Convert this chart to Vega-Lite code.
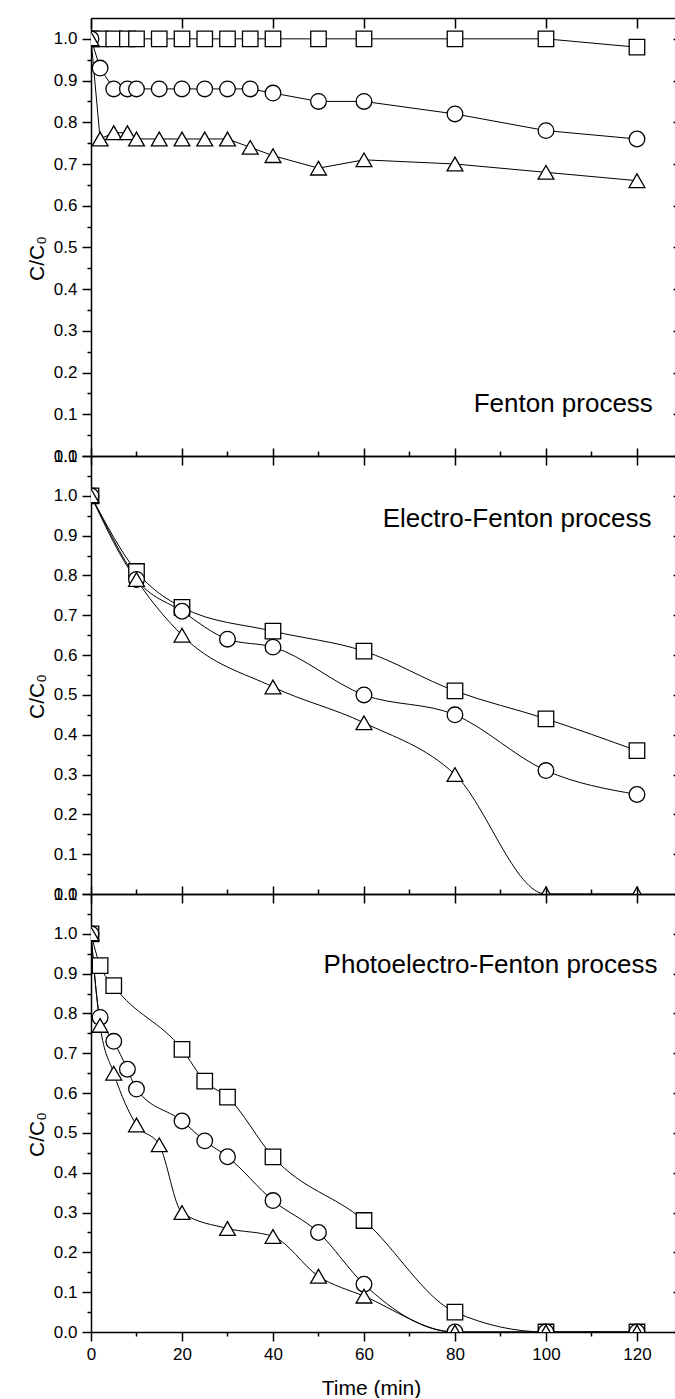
{
  "$schema": "https://vega.github.io/schema/vega-lite/v6.json",
  "padding": {"left": 26, "top": 17, "right": 0, "bottom": 0},
  "bounds": "flush",
  "spacing": 0,
  "config": {
    "view": {"stroke": null},
    "font": "Liberation Sans",
    "axis": {"domainColor": "black", "tickColor": "black", "labelColor": "black", "titleColor": "black", "domainWidth": 1.5, "tickWidth": 1.5, "labelFontSize": 17, "titleFontSize": 21, "titleFontWeight": "normal", "labelPadding": 5, "labelFlush": false, "labelOverlap": false, "grid": false, "labelFont": "Liberation Sans", "titleFont": "Liberation Sans"}
  },
  "datasets": {
    "d": [
      {"p":"a","s":"sq","t":0,"v":1},{"p":"a","s":"sq","t":2,"v":1},{"p":"a","s":"sq","t":5,"v":1},{"p":"a","s":"sq","t":8,"v":1},{"p":"a","s":"sq","t":10,"v":1},{"p":"a","s":"sq","t":15,"v":1},{"p":"a","s":"sq","t":20,"v":1},{"p":"a","s":"sq","t":25,"v":1},{"p":"a","s":"sq","t":30,"v":1},{"p":"a","s":"sq","t":35,"v":1},{"p":"a","s":"sq","t":40,"v":1},{"p":"a","s":"sq","t":50,"v":1},{"p":"a","s":"sq","t":60,"v":1},{"p":"a","s":"sq","t":80,"v":1},{"p":"a","s":"sq","t":100,"v":1},{"p":"a","s":"sq","t":120,"v":0.98},
      {"p":"a","s":"ci","t":0,"v":1},{"p":"a","s":"ci","t":2,"v":0.93},{"p":"a","s":"ci","t":5,"v":0.88},{"p":"a","s":"ci","t":8,"v":0.88},{"p":"a","s":"ci","t":10,"v":0.88},{"p":"a","s":"ci","t":15,"v":0.88},{"p":"a","s":"ci","t":20,"v":0.88},{"p":"a","s":"ci","t":25,"v":0.88},{"p":"a","s":"ci","t":30,"v":0.88},{"p":"a","s":"ci","t":35,"v":0.88},{"p":"a","s":"ci","t":40,"v":0.87},{"p":"a","s":"ci","t":50,"v":0.85},{"p":"a","s":"ci","t":60,"v":0.85},{"p":"a","s":"ci","t":80,"v":0.82},{"p":"a","s":"ci","t":100,"v":0.78},{"p":"a","s":"ci","t":120,"v":0.76},
      {"p":"a","s":"tr","t":0,"v":1},{"p":"a","s":"tr","t":2,"v":0.76},{"p":"a","s":"tr","t":5,"v":0.775},{"p":"a","s":"tr","t":8,"v":0.775},{"p":"a","s":"tr","t":10,"v":0.76},{"p":"a","s":"tr","t":15,"v":0.76},{"p":"a","s":"tr","t":20,"v":0.76},{"p":"a","s":"tr","t":25,"v":0.76},{"p":"a","s":"tr","t":30,"v":0.76},{"p":"a","s":"tr","t":35,"v":0.74},{"p":"a","s":"tr","t":40,"v":0.72},{"p":"a","s":"tr","t":50,"v":0.69},{"p":"a","s":"tr","t":60,"v":0.71},{"p":"a","s":"tr","t":80,"v":0.70},{"p":"a","s":"tr","t":100,"v":0.68},{"p":"a","s":"tr","t":120,"v":0.66},
      {"p":"b","s":"sq","t":0,"v":1},{"p":"b","s":"sq","t":10,"v":0.81},{"p":"b","s":"sq","t":20,"v":0.72},{"p":"b","s":"sq","t":40,"v":0.66},{"p":"b","s":"sq","t":60,"v":0.61},{"p":"b","s":"sq","t":80,"v":0.51},{"p":"b","s":"sq","t":100,"v":0.44},{"p":"b","s":"sq","t":120,"v":0.36},
      {"p":"b","s":"ci","t":0,"v":1},{"p":"b","s":"ci","t":10,"v":0.79},{"p":"b","s":"ci","t":20,"v":0.71},{"p":"b","s":"ci","t":30,"v":0.64},{"p":"b","s":"ci","t":40,"v":0.62},{"p":"b","s":"ci","t":60,"v":0.50},{"p":"b","s":"ci","t":80,"v":0.45},{"p":"b","s":"ci","t":100,"v":0.31},{"p":"b","s":"ci","t":120,"v":0.25},
      {"p":"b","s":"tr","t":0,"v":1},{"p":"b","s":"tr","t":10,"v":0.79},{"p":"b","s":"tr","t":20,"v":0.65},{"p":"b","s":"tr","t":40,"v":0.52},{"p":"b","s":"tr","t":60,"v":0.43},{"p":"b","s":"tr","t":80,"v":0.30},{"p":"b","s":"tr","t":100,"v":0},{"p":"b","s":"tr","t":120,"v":0},
      {"p":"c","s":"sq","t":0,"v":1},{"p":"c","s":"sq","t":2,"v":0.92},{"p":"c","s":"sq","t":5,"v":0.87},{"p":"c","s":"sq","t":20,"v":0.71},{"p":"c","s":"sq","t":25,"v":0.63},{"p":"c","s":"sq","t":30,"v":0.59},{"p":"c","s":"sq","t":40,"v":0.44},{"p":"c","s":"sq","t":60,"v":0.28},{"p":"c","s":"sq","t":80,"v":0.05},{"p":"c","s":"sq","t":100,"v":0},{"p":"c","s":"sq","t":120,"v":0},
      {"p":"c","s":"ci","t":0,"v":1},{"p":"c","s":"ci","t":2,"v":0.79},{"p":"c","s":"ci","t":5,"v":0.73},{"p":"c","s":"ci","t":8,"v":0.66},{"p":"c","s":"ci","t":10,"v":0.61},{"p":"c","s":"ci","t":20,"v":0.53},{"p":"c","s":"ci","t":25,"v":0.48},{"p":"c","s":"ci","t":30,"v":0.44},{"p":"c","s":"ci","t":40,"v":0.33},{"p":"c","s":"ci","t":50,"v":0.25},{"p":"c","s":"ci","t":60,"v":0.12},{"p":"c","s":"ci","t":80,"v":0},{"p":"c","s":"ci","t":100,"v":0},{"p":"c","s":"ci","t":120,"v":0},
      {"p":"c","s":"tr","t":0,"v":1},{"p":"c","s":"tr","t":2,"v":0.77},{"p":"c","s":"tr","t":5,"v":0.65},{"p":"c","s":"tr","t":10,"v":0.52},{"p":"c","s":"tr","t":15,"v":0.47},{"p":"c","s":"tr","t":20,"v":0.30},{"p":"c","s":"tr","t":30,"v":0.26},{"p":"c","s":"tr","t":40,"v":0.24},{"p":"c","s":"tr","t":50,"v":0.14},{"p":"c","s":"tr","t":60,"v":0.09},{"p":"c","s":"tr","t":80,"v":0},{"p":"c","s":"tr","t":100,"v":0},{"p":"c","s":"tr","t":120,"v":0}
    ],
    "lab": [
      {"p":"a","label":"Fenton process","t":123.5,"v":0.105},
      {"p":"b","label":"Electro-Fenton process","t":123.2,"v":0.922},
      {"p":"c","label":"Photoelectro-Fenton process","t":124.5,"v":0.9015}
    ]
  },
  "vconcat": [
    {
      "width": 586, "height": 438,
      "layer": [
        {"data": {"name": "d"}, "transform": [{"filter": "datum.p == 'a'"}],
         "mark": {"type": "line", "clip": true, "color": "black", "strokeWidth": 1, "interpolate": "linear"},
         "encoding": {
           "x": {"field": "t", "type": "quantitative", "scale": {"domain": [0, 128.8], "nice": false, "zero": false},
                 "axis": {"orient": "bottom", "values": [0,10,20,30,40,50,60,70,80,90,100,110,120], "tickSize": {"condition": {"test": "datum.value % 20 === 0", "value": 9}, "value": 0}, "labels": false, "title": null}},
           "y": {"field": "v", "type": "quantitative", "scale": {"domain": [0, 1.05], "nice": false, "zero": false},
                 "axis": {"orient": "left", "values": [0,0.05,0.1,0.15,0.2,0.25,0.3,0.35,0.4,0.45,0.5,0.55,0.6,0.65,0.7,0.75,0.8,0.85,0.9,0.95,1.0], "tickSize": {"condition": {"test": "abs(datum.value*10 - round(datum.value*10)) < 0.001", "value": 9}, "value": 4}, "labelExpr": "abs(datum.value*10 - round(datum.value*10)) < 0.001 ? format(datum.value, '.1f') : ''", "title": "C/C₀", "titleY": 240, "titlePadding": 6}},
           "detail": {"field": "s", "type": "nominal"}
         }},
        {"data": {"name": "d"}, "transform": [{"filter": "datum.p == 'a'"}],
         "mark": {"type": "point", "clip": true, "fill": "white", "stroke": "black", "opacity": 1, "fillOpacity": 1},
         "encoding": {
           "x": {"field": "t", "type": "quantitative", "scale": {"domain": [0, 128.8], "nice": false, "zero": false}, "axis": null},
           "y": {"field": "v", "type": "quantitative", "scale": {"domain": [0, 1.05], "nice": false, "zero": false}, "axis": null},
           "shape": {"field": "s", "type": "nominal", "scale": {"domain": ["sq","ci","tr"], "range": ["square","circle","triangle-up"]}, "legend": null},
           "size": {"field": "s", "type": "ordinal", "scale": {"domain": ["sq","ci","tr"], "range": [240, 250, 480]}, "legend": null},
           "strokeWidth": {"field": "s", "type": "ordinal", "scale": {"domain": ["sq","ci","tr"], "range": [1.3, 1.3, 2]}, "legend": null}
         }},
        {"data": {"name": "lab"}, "transform": [{"filter": "datum.p == 'a'"}],
         "mark": {"type": "text", "align": "right", "baseline": "alphabetic", "fontSize": 26, "color": "black", "font": "Liberation Sans"},
         "encoding": {
           "x": {"field": "t", "type": "quantitative", "scale": {"domain": [0, 128.8], "nice": false, "zero": false},
                 "axis": {"orient": "top", "values": [0,20,40,60,80,100,120], "tickSize": -10, "labels": false, "title": null}},
           "y": {"field": "v", "type": "quantitative", "scale": {"domain": [0, 1.05], "nice": false, "zero": false},
                 "axis": {"orient": "right", "values": [0,0.1,0.2,0.3,0.4,0.5,0.6,0.7,0.8,0.9,1.0], "tickSize": -4, "labels": false, "title": null}},
           "text": {"field": "label"}
         }}
      ]
    },
    {
      "width": 586, "height": 438,
      "layer": [
        {"data": {"name": "d"}, "transform": [{"filter": "datum.p == 'b'"}],
         "mark": {"type": "line", "clip": true, "color": "black", "strokeWidth": 1, "interpolate": "monotone"},
         "encoding": {
           "x": {"field": "t", "type": "quantitative", "scale": {"domain": [0, 128.8], "nice": false, "zero": false},
                 "axis": {"orient": "bottom", "values": [0,10,20,30,40,50,60,70,80,90,100,110,120], "tickSize": {"condition": {"test": "datum.value % 20 === 0", "value": 9}, "value": 0}, "labels": false, "title": null}},
           "y": {"field": "v", "type": "quantitative", "scale": {"domain": [0, 1.1], "nice": false, "zero": false},
                 "axis": {"orient": "left", "values": [0,0.05,0.1,0.15,0.2,0.25,0.3,0.35,0.4,0.45,0.5,0.55,0.6,0.65,0.7,0.75,0.8,0.85,0.9,0.95,1.0,1.05,1.1], "tickSize": {"condition": {"test": "abs(datum.value*10 - round(datum.value*10)) < 0.001", "value": 9}, "value": 4}, "labelExpr": "abs(datum.value*10 - round(datum.value*10)) < 0.001 ? format(datum.value, '.1f') : ''", "title": "C/C₀", "titleY": 240, "titlePadding": 6}},
           "detail": {"field": "s", "type": "nominal"}
         }},
        {"data": {"name": "d"}, "transform": [{"filter": "datum.p == 'b'"}],
         "mark": {"type": "point", "clip": true, "fill": "white", "stroke": "black", "opacity": 1, "fillOpacity": 1},
         "encoding": {
           "x": {"field": "t", "type": "quantitative", "scale": {"domain": [0, 128.8], "nice": false, "zero": false}, "axis": null},
           "y": {"field": "v", "type": "quantitative", "scale": {"domain": [0, 1.1], "nice": false, "zero": false}, "axis": null},
           "shape": {"field": "s", "type": "nominal", "scale": {"domain": ["sq","ci","tr"], "range": ["square","circle","triangle-up"]}, "legend": null},
           "size": {"field": "s", "type": "ordinal", "scale": {"domain": ["sq","ci","tr"], "range": [240, 250, 480]}, "legend": null},
           "strokeWidth": {"field": "s", "type": "ordinal", "scale": {"domain": ["sq","ci","tr"], "range": [1.3, 1.3, 2]}, "legend": null}
         }},
        {"data": {"name": "lab"}, "transform": [{"filter": "datum.p == 'b'"}],
         "mark": {"type": "text", "align": "right", "baseline": "alphabetic", "fontSize": 26, "color": "black", "font": "Liberation Sans"},
         "encoding": {
           "x": {"field": "t", "type": "quantitative", "scale": {"domain": [0, 128.8], "nice": false, "zero": false},
                 "axis": {"orient": "top", "values": [0,10,20,30,40,50,60,70,80,90,100,110,120], "tickSize": {"condition": {"test": "datum.value % 20 === 0", "value": 8}, "value": 5}, "labels": false, "title": null}},
           "y": {"field": "v", "type": "quantitative", "scale": {"domain": [0, 1.1], "nice": false, "zero": false},
                 "axis": {"orient": "right", "values": [0,0.1,0.2,0.3,0.4,0.5,0.6,0.7,0.8,0.9,1.0], "tickSize": -4, "labels": false, "title": null}},
           "text": {"field": "label"}
         }}
      ]
    },
    {
      "width": 586, "height": 438,
      "layer": [
        {"data": {"name": "d"}, "transform": [{"filter": "datum.p == 'c'"}],
         "mark": {"type": "line", "clip": true, "color": "black", "strokeWidth": 1, "interpolate": "monotone"},
         "encoding": {
           "x": {"field": "t", "type": "quantitative", "scale": {"domain": [0, 128.8], "nice": false, "zero": false},
                 "axis": {"orient": "bottom", "values": [0,10,20,30,40,50,60,70,80,90,100,110,120], "tickSize": {"condition": {"test": "datum.value % 20 === 0", "value": 9}, "value": 4}, "labelExpr": "datum.value % 20 === 0 ? datum.label : ''", "title": "Time (min)", "titleX": 280, "titleY": 62, "titleBaseline": "alphabetic"}},
           "y": {"field": "v", "type": "quantitative", "scale": {"domain": [0, 1.1], "nice": false, "zero": false},
                 "axis": {"orient": "left", "values": [0,0.05,0.1,0.15,0.2,0.25,0.3,0.35,0.4,0.45,0.5,0.55,0.6,0.65,0.7,0.75,0.8,0.85,0.9,0.95,1.0,1.05,1.1], "tickSize": {"condition": {"test": "abs(datum.value*10 - round(datum.value*10)) < 0.001", "value": 9}, "value": 4}, "labelExpr": "abs(datum.value*10 - round(datum.value*10)) < 0.001 ? format(datum.value, '.1f') : ''", "title": "C/C₀", "titleY": 240, "titlePadding": 6}},
           "detail": {"field": "s", "type": "nominal"}
         }},
        {"data": {"name": "d"}, "transform": [{"filter": "datum.p == 'c'"}],
         "mark": {"type": "point", "clip": true, "fill": "white", "stroke": "black", "opacity": 1, "fillOpacity": 1},
         "encoding": {
           "x": {"field": "t", "type": "quantitative", "scale": {"domain": [0, 128.8], "nice": false, "zero": false}, "axis": null},
           "y": {"field": "v", "type": "quantitative", "scale": {"domain": [0, 1.1], "nice": false, "zero": false}, "axis": null},
           "shape": {"field": "s", "type": "nominal", "scale": {"domain": ["sq","ci","tr"], "range": ["square","circle","triangle-up"]}, "legend": null},
           "size": {"field": "s", "type": "ordinal", "scale": {"domain": ["sq","ci","tr"], "range": [240, 250, 480]}, "legend": null},
           "strokeWidth": {"field": "s", "type": "ordinal", "scale": {"domain": ["sq","ci","tr"], "range": [1.3, 1.3, 2]}, "legend": null}
         }},
        {"data": {"name": "lab"}, "transform": [{"filter": "datum.p == 'c'"}],
         "mark": {"type": "text", "align": "right", "baseline": "alphabetic", "fontSize": 26, "color": "black", "font": "Liberation Sans"},
         "encoding": {
           "x": {"field": "t", "type": "quantitative", "scale": {"domain": [0, 128.8], "nice": false, "zero": false},
                 "axis": {"orient": "top", "values": [0,10,20,30,40,50,60,70,80,90,100,110,120], "tickSize": {"condition": {"test": "datum.value % 20 === 0", "value": 8}, "value": 5}, "labels": false, "title": null}},
           "y": {"field": "v", "type": "quantitative", "scale": {"domain": [0, 1.1], "nice": false, "zero": false},
                 "axis": {"orient": "right", "values": [0,0.1,0.2,0.3,0.4,0.5,0.6,0.7,0.8,0.9,1.0], "tickSize": -4, "labels": false, "title": null}},
           "text": {"field": "label"}
         }}
      ]
    }
  ]
}
